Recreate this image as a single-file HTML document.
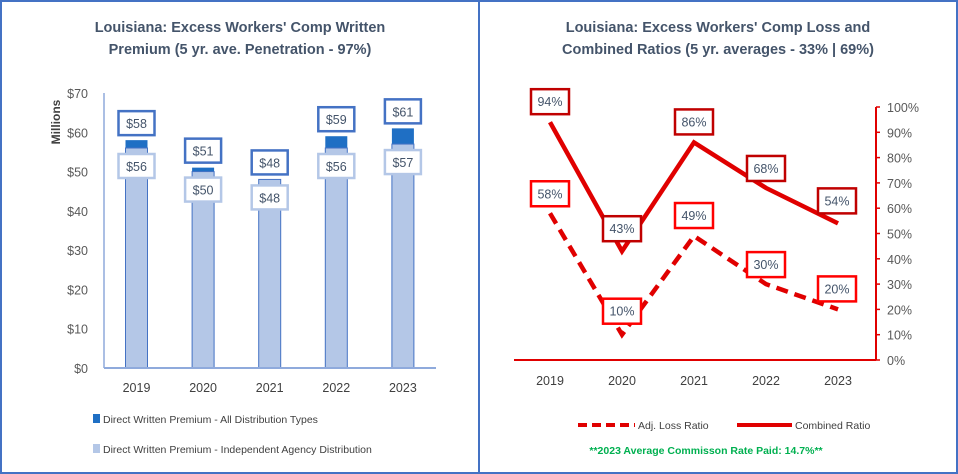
<!DOCTYPE html>
<html><head><meta charset="utf-8"><style>
body{margin:0;background:#fff;}
svg{display:block;font-family:"Liberation Sans",sans-serif;}
</style></head><body>
<svg width="958" height="474" viewBox="0 0 958 474">
<rect x="1" y="1" width="956" height="472" fill="#fff" stroke="#4472c4" stroke-width="2"/>
<line x1="479" y1="0" x2="479" y2="474" stroke="#4472c4" stroke-width="2"/>
<g font-weight="bold" fill="#44546a" font-size="14.5" text-anchor="middle">
<text x="240" y="32">Louisiana: Excess Workers' Comp Written</text>
<text x="240" y="54">Premium (5 yr. ave. Penetration - 97%)</text>
<text x="718" y="32">Louisiana: Excess Workers' Comp Loss and</text>
<text x="718" y="54">Combined Ratios (5 yr. averages - 33% | 69%)</text>
</g>
<g id="left"></g>
<g id="right"></g>
<g font-size="10.5" fill="#404040">
<rect x="93" y="414" width="7" height="9" fill="#1f6fc4"/>
<text x="103" y="423">Direct Written Premium - All Distribution Types</text>
<rect x="93" y="444" width="7" height="9" fill="#b4c7e7"/>
<text x="103" y="453">Direct Written Premium - Independent Agency Distribution</text>
<line x1="578" y1="425" x2="635" y2="425" stroke="#e00000" stroke-width="4" stroke-dasharray="9,5"/>
<text x="638" y="429">Adj. Loss Ratio</text>
<line x1="737" y1="425" x2="792" y2="425" stroke="#e00000" stroke-width="4"/>
<text x="795" y="429">Combined Ratio</text>
<text x="706" y="454" fill="#00b050" font-size="10.5" font-weight="bold" text-anchor="middle">**2023 Average Commisson Rate Paid: 14.7%**</text>
</g>
</svg>
<script>
const years=["2019","2020","2021","2022","2023"];
const allPremium=[58,51,48,59,61];
const indPremium=[56,50,48,56,57];
const yTicks=[0,10,20,30,40,50,60,70];
const lossRatio=[58,10,49,30,20];
const combinedRatio=[94,43,86,68,54];
const pctTicks=[0,10,20,30,40,50,60,70,80,90,100];
const NS="http://www.w3.org/2000/svg";
function mk(p,t,a,txt){const e=document.createElementNS(NS,t);for(const k in a)e.setAttribute(k,a[k]);if(txt!==undefined)e.textContent=txt;p.appendChild(e);return e;}
const L=document.getElementById('left'),R=document.getElementById('right');
const yL=v=>368-v*(275/70);
const xL=i=>136.5+i*66.6;
yTicks.forEach(t=>{const e=mk(L,'text',{x:88,y:yL(t)+5,'text-anchor':'end','font-size':'12.5',fill:'#595959'},'$'+t);

});
const yt=mk(L,'text',{x:0,y:0,transform:'translate(60,122) rotate(-90)','text-anchor':'middle','font-size':'12','font-weight':'bold',fill:'#404040'},'Millions');


const ya=mk(L,'line',{x1:104,y1:93,x2:104,y2:368,stroke:'#8faadc','stroke-width':1.5});


years.forEach((y,i)=>{
 const cx=xL(i);
 const d=mk(L,'rect',{x:cx-11,y:yL(allPremium[i]),width:22,height:368-yL(allPremium[i]),fill:'#1f6fc4'});
 
 
 const b=mk(L,'rect',{x:cx-11,y:yL(indPremium[i]),width:22,height:368-yL(indPremium[i]),fill:'#b4c7e7',stroke:'#4472c4','stroke-width':1});
 
 
 const t=mk(L,'text',{x:cx,y:392,'text-anchor':'middle','font-size':'12.5',fill:'#404040'},y);
 
 
 const c1=yL(allPremium[i])-17;
 const l1=mk(L,'rect',{x:cx-18,y:c1-12,width:36,height:24,fill:'#fff',stroke:'#4472c4','stroke-width':2.5});
 
 
 const t1=mk(L,'text',{x:cx,y:c1+5,'text-anchor':'middle','font-size':'12.5',fill:'#44546a'},'$'+allPremium[i]);
 
 
 const c2=yL(indPremium[i])+18;
 const l2=mk(L,'rect',{x:cx-18,y:c2-12,width:36,height:24,fill:'#fff',stroke:'#b4c7e7','stroke-width':2.5});
 
 
 const t2=mk(L,'text',{x:cx,y:c2+5,'text-anchor':'middle','font-size':'12.5',fill:'#44546a'},'$'+indPremium[i]);
 
 
});
const xa=mk(L,'line',{x1:104,y1:368,x2:436,y2:368,stroke:'#8faadc','stroke-width':2});


const yR=v=>360-v*2.53;
const xR=i=>550+i*72;
const ra=mk(R,'line',{x1:876,y1:yR(100),x2:876,y2:360,stroke:'#e00000','stroke-width':2});


pctTicks.forEach(t=>{
 const tk=mk(R,'line',{x1:876,y1:yR(t),x2:880,y2:yR(t),stroke:'#e00000','stroke-width':1.5});
 
 
 const e=mk(R,'text',{x:887,y:yR(t)+5,'font-size':'12.5',fill:'#595959'},t+'%');
 
 
});
const rx=mk(R,'line',{x1:514,y1:360,x2:876,y2:360,stroke:'#e00000','stroke-width':2});


years.forEach((y,i)=>{const t=mk(R,'text',{x:xR(i),y:385,'text-anchor':'middle','font-size':'12.5',fill:'#404040'},y);

});
const pts=a=>a.map((v,i)=>xR(i)+','+yR(v)).join(' ');
const pl=mk(R,'polyline',{points:pts(lossRatio),fill:'none',stroke:'#e00000','stroke-width':4.5,'stroke-dasharray':'12,7'});


const pc=mk(R,'polyline',{points:pts(combinedRatio),fill:'none',stroke:'#e00000','stroke-width':4.5});


function lab(v,i,dx,dy,stroke,name){
 const cx=xR(i)+dx,cy=yR(v)+dy;
 const r=mk(R,'rect',{x:cx-19,y:cy-12,width:38,height:25,fill:'#fff',stroke:stroke,'stroke-width':2.5});
 
 
 const t=mk(R,'text',{x:cx,y:cy+5,'text-anchor':'middle','font-size':'12.5',fill:'#44546a'},v+'%');
 
 
}
const cOff=[[0,-21],[0,-23],[0,-21],[0,-20],[-1,-23]];
const lOff=[[0,-20],[0,-24],[0,-21],[0,-20],[-1,-21]];
combinedRatio.forEach((v,i)=>lab(v,i,cOff[i][0],cOff[i][1],'#c00000','combined-'+years[i]));
lossRatio.forEach((v,i)=>lab(v,i,lOff[i][0],lOff[i][1],'#ff0000','loss-'+years[i]));
</script>
</body></html>
